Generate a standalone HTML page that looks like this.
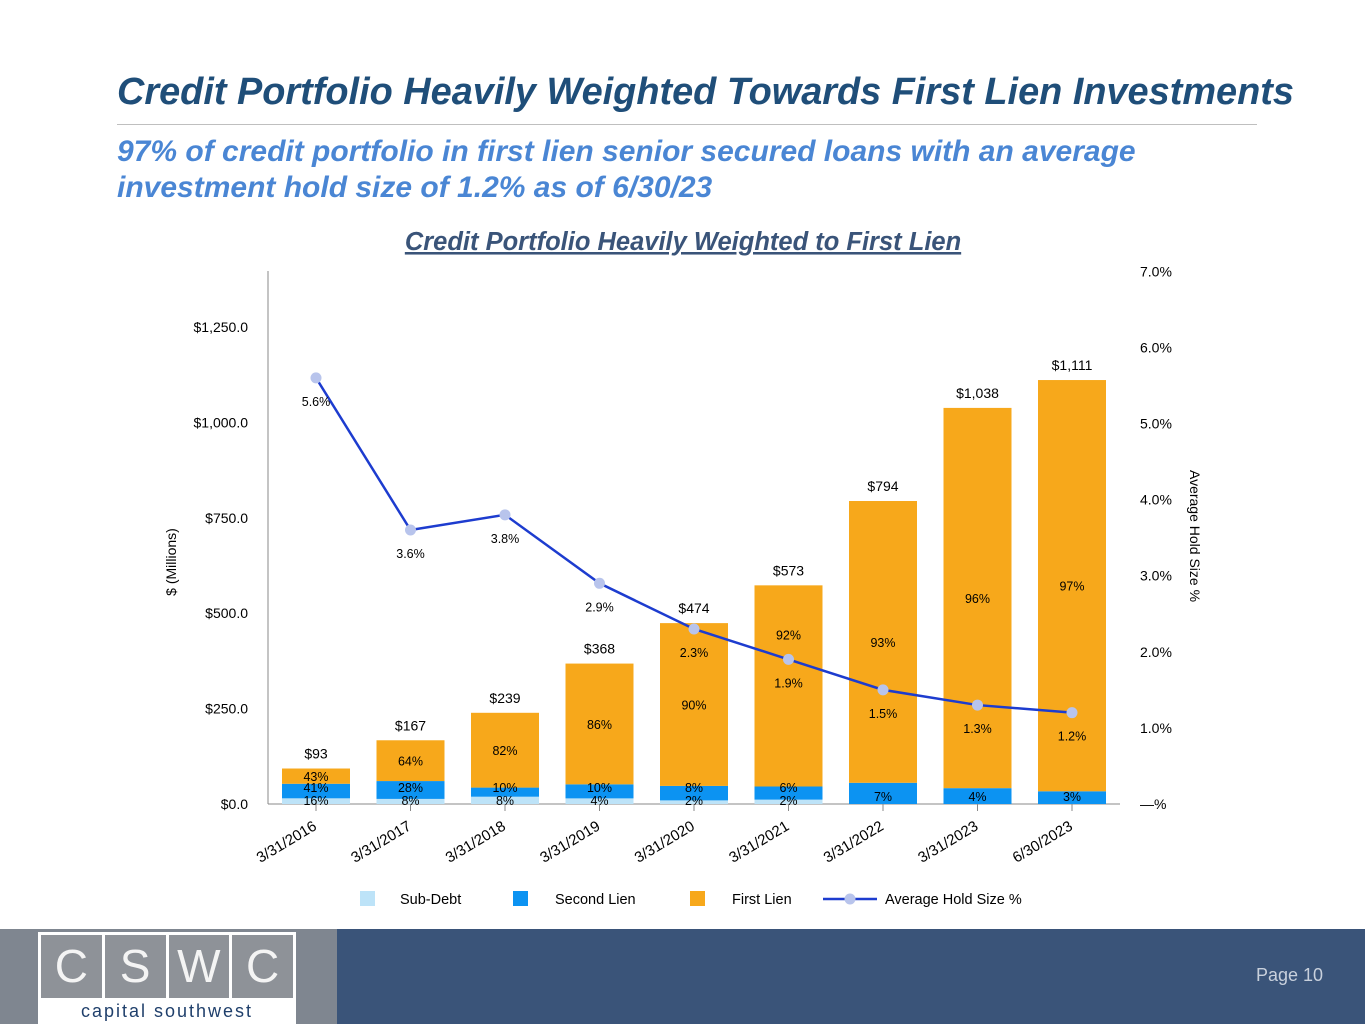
<!DOCTYPE html>
<html><head><meta charset="utf-8"><style>
body{margin:0;width:1365px;height:1024px;overflow:hidden;background:#fff;font-family:"Liberation Sans",sans-serif;position:relative}
.t{position:absolute;white-space:nowrap}
</style></head><body>
<div class="t" style="left:117px;top:71px;font-size:37.9px;font-weight:bold;font-style:italic;color:#1f4e79">Credit Portfolio Heavily Weighted Towards First Lien Investments</div>
<div style="position:absolute;left:117px;top:124px;width:1140px;height:1px;background:#bfbfbf"></div>
<div class="t" style="left:117px;top:134px;font-size:30px;line-height:36px;font-weight:bold;font-style:italic;color:#4a86d4">97% of credit portfolio in first lien senior secured loans with an average<br>investment hold size of 1.2% as of 6/30/23</div>
<svg id="chart" style="position:absolute;left:0;top:0" width="1365" height="925" font-family="Liberation Sans, sans-serif"></svg>
<div style="position:absolute;left:0;top:929px;width:337px;height:95px;background:#7f8690"></div>
<div style="position:absolute;left:337px;top:929px;width:1028px;height:95px;background:#3a5479"></div>
<div style="position:absolute;left:38px;top:932px;width:258px;height:92px;background:#fff">
 <div style="position:absolute;left:3px;top:3px;width:252px;height:63px;display:flex;gap:3px">
  <div style="flex:1;background:#8e9298;color:#f4f4f4;font-size:46px;text-align:center;line-height:63px">C</div>
  <div style="flex:1;background:#8e9298;color:#f4f4f4;font-size:46px;text-align:center;line-height:63px">S</div>
  <div style="flex:1;background:#8e9298;color:#f4f4f4;font-size:46px;text-align:center;line-height:63px">W</div>
  <div style="flex:1;background:#8e9298;color:#f4f4f4;font-size:46px;text-align:center;line-height:63px">C</div>
 </div>
 <div class="t" style="left:0;width:258px;text-align:center;top:69px;font-size:18px;letter-spacing:2px;color:#1f3f6b">capital southwest</div>
</div>
<div class="t" style="left:1256px;top:965px;font-size:18px;color:#c8d0dc">Page 10</div>
<script>
const categories=["3/31/2016","3/31/2017","3/31/2018","3/31/2019","3/31/2020","3/31/2021","3/31/2022","3/31/2023","6/30/2023"];
const totals=[93,167,239,368,474,573,794,1038,1111];
const totalLabels=["$93","$167","$239","$368","$474","$573","$794","$1,038","$1,111"];
const subDebt=[16,8,8,4,2,2,0,0,0];
const secondLien=[41,28,10,10,8,6,7,4,3];
const firstLien=[43,64,82,86,90,92,93,96,97];
const holdSize=[5.6,3.6,3.8,2.9,2.3,1.9,1.5,1.3,1.2];
const leftTicks=[0,250,500,750,1000,1250];
const rightTicks=[0,1,2,3,4,5,6,7];
const svg=document.getElementById('chart');const NS='http://www.w3.org/2000/svg';
function mk(t,a,txt){const e=document.createElementNS(NS,t);for(const k in a)e.setAttribute(k,a[k]);if(txt!==undefined)e.textContent=txt;svg.appendChild(e);return e;}
const y0=804,yL=v=>y0-v*(477/1250),yR=v=>y0-v*76.1,xC=i=>316+i*94.5,bw=68;
let e;
e=mk('text',{x:683,y:250,'text-anchor':'middle','font-size':25.5,'font-weight':'bold','font-style':'italic',fill:'#3a5479','text-decoration':'underline'},'Credit Portfolio Heavily Weighted to First Lien');

mk('line',{x1:268,y1:271,x2:268,y2:804,stroke:'#888'});
mk('line',{x1:268,y1:804,x2:1120,y2:804,stroke:'#888'});
leftTicks.forEach(v=>{e=mk('text',{x:248,y:yL(v)+5,'text-anchor':'end','font-size':14,fill:'#000'},'$'+v.toFixed(1).replace(/\B(?=(\d{3})+(?!\d))/,','));
});
rightTicks.forEach(v=>{e=mk('text',{x:1140,y:yR(v)+5,'font-size':14,fill:'#000'},v===0?'—%':v.toFixed(1)+'%');
});
e=mk('text',{transform:'translate(176,562) rotate(-90)','text-anchor':'middle','font-size':14},'$ (Millions)');

e=mk('text',{transform:'translate(1190,536) rotate(90)','text-anchor':'middle','font-size':14},'Average Hold Size %');

categories.forEach((c,i)=>{
 const x=xC(i);let base=0;
 const segs=[[subDebt[i],'#bde3f8','sub-debt'],[secondLien[i],'#0c93f2','second-lien'],[firstLien[i],'#f7a81b','first-lien']];
 segs.forEach(([p,col,n])=>{const v=totals[i]*p/100;if(v>0){e=mk('rect',{x:x-bw/2,y:yL(base+v),width:bw,height:yL(base)-yL(base+v),fill:col});
 }base+=v;});
 mk('line',{x1:x,y1:804,x2:x,y2:811,stroke:'#888'});
 e=mk('text',{x:x,y:yL(totals[i])-10,'text-anchor':'middle','font-size':14},totalLabels[i]);
 
 const lab=(t,y)=>{const q=mk('text',{x:x,y:y,'text-anchor':'middle','font-size':12.5},t);};
 const sTop=totals[i]*(subDebt[i]+secondLien[i])/100;
 if(subDebt[i]>0)lab(subDebt[i]+'%',805);
 lab(secondLien[i]+'%',subDebt[i]>0?792:801);
 let fy=(yL(sTop)+yL(totals[i]))/2+5;
 const hy=yR(holdSize[i])+28;
 if(Math.abs(fy-hy)<22)fy=hy-48;
 lab(firstLien[i]+'%',fy);
 e=mk('text',{transform:`translate(${x-27},${846}) rotate(-31)`,'text-anchor':'middle','font-size':15},c);
 
});
e=mk('polyline',{points:holdSize.map((v,i)=>xC(i)+','+yR(v)).join(' '),fill:'none',stroke:'#1d3ccf','stroke-width':2.5});

holdSize.forEach((v,i)=>{e=mk('circle',{cx:xC(i),cy:yR(v),r:5.5,fill:'#b8c4ec'});

e=mk('text',{x:xC(i),y:yR(v)+28,'text-anchor':'middle','font-size':12.5},v.toFixed(1)+'%');
});
const leg=[[360,'#bde3f8','Sub-Debt',400],[513,'#0c93f2','Second Lien',555],[690,'#f7a81b','First Lien',732]];
leg.forEach(([x,c,t,tx])=>{e=mk('rect',{x:x,y:891,width:15,height:15,fill:c});
e=mk('text',{x:tx,y:904,'font-size':14.5},t);});
mk('line',{x1:823,y1:899,x2:877,y2:899,stroke:'#1d3ccf','stroke-width':2.5});
mk('circle',{cx:850,cy:899,r:5.5,fill:'#b8c4ec'});
e=mk('text',{x:885,y:904,'font-size':14.5},'Average Hold Size %');
</script>
</body></html>
